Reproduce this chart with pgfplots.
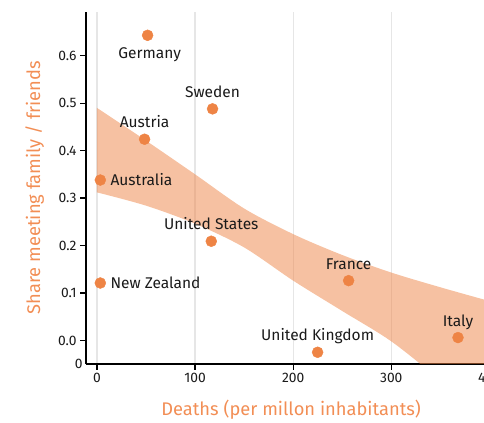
\documentclass[border=0pt]{standalone}
\usepackage{pgfplots}
\pgfplotsset{compat=1.18}
\usepgfplotslibrary{fillbetween}
\usepackage{fontspec}
\setmainfont{Fira Sans}
\definecolor{pt}{HTML}{EE8445}
\definecolor{lab}{HTML}{F28E55}
\definecolor{grd}{HTML}{E6E6E6}
\definecolor{tk}{HTML}{1A1A1A}
\begin{document}
\begin{tikzpicture}
\begin{axis}[
  name=main,
  at={(0,0)}, anchor=south west,
  x=0.981bp, y=474.5bp,
  xmin=-11.2, xmax=412,
  ymin=-0.0497, ymax=0.693,
  axis lines=left,
  axis line style={line width=1.3bp, black, -},
  clip=true,
  xtick={0,100,200,300,400},
  ytick={0,0.1,0.2,0.3,0.4,0.5,0.6},
  yticklabels={0.0,0.1,0.2,0.3,0.4,0.5,0.6},
  extra y ticks={-0.0497},
  extra y tick labels={0},
  extra y tick style={major tick length=0pt, grid=none},
  xmajorgrids=true,
  major grid style={grd, line width=1.3bp},
  tick style={line width=1.3bp, black},
  major tick length=6bp,
  tick align=outside,
  /pgf/number format/assume math mode=true,
  tick label style={font=\fontsize{13.8bp}{15bp}\selectfont, text=tk},
  xlabel={Deaths (per millon inhabitants)},
  ylabel={Share meeting family / friends},
  xlabel style={at={(axis description cs:0.494,-0.131)}, anchor=center, font=\fontsize{18.3bp}{21bp}\selectfont, text=lab},
  ylabel style={at={(axis description cs:-0.1236,0.5)}, anchor=center, rotate=0, font=\fontsize{18.3bp}{21bp}\selectfont, text=lab},
  every node near coord/.append style={font=\fontsize{15.5bp}{18bp}\selectfont, text=tk, inner sep=0pt},
]
\addplot[name path=up, draw=none, smooth, forget plot] coordinates {
(0,0.490) (50,0.421) (100,0.350) (150,0.278) (200,0.224) (250,0.180) (300,0.143) (350,0.112) (400,0.083) (412,0.077)};
\addplot[name path=lo, draw=none, smooth, forget plot] coordinates {
(0,0.312) (50,0.284) (100,0.246) (150,0.196) (200,0.126) (250,0.062) (300,-0.002) (350,-0.085) (412,-0.20)};
\addplot[fill=pt, fill opacity=0.5, draw=none, forget plot] fill between[of=up and lo];

% labels above
\addplot[only marks, mark=*, mark size=5.5bp, color=pt, point meta=explicit symbolic,
  nodes near coords, every node near coord/.append style={anchor=base, yshift=11.5bp}]
coordinates {
(117.8,0.488) [Sweden]
(48.5,0.424) [Austria]
(116.5,0.209) [United States]
(256.5,0.126) [France]
(224.9,-0.025) [United Kingdom]
(368,0.006) [Italy]
};
% label below
\addplot[only marks, mark=*, mark size=5.5bp, color=pt, point meta=explicit symbolic,
  nodes near coords, every node near coord/.append style={anchor=base, yshift=-23bp, xshift=2bp}]
coordinates {
(51.6,0.643) [Germany]
};
% labels right
\addplot[only marks, mark=*, mark size=5.5bp, color=pt, point meta=explicit symbolic,
  nodes near coords, every node near coord/.append style={anchor=base west, xshift=10bp, yshift=-5.5bp}]
coordinates {
(3.4,0.338) [Australia]
(3.4,0.121) [New Zealand]
};
\end{axis}
\pgfresetboundingbox
\path ([shift={(-86bp,-59bp)}]main.south west) rectangle ([shift={(398bp,364bp)}]main.south west);
\end{tikzpicture}
\end{document}
